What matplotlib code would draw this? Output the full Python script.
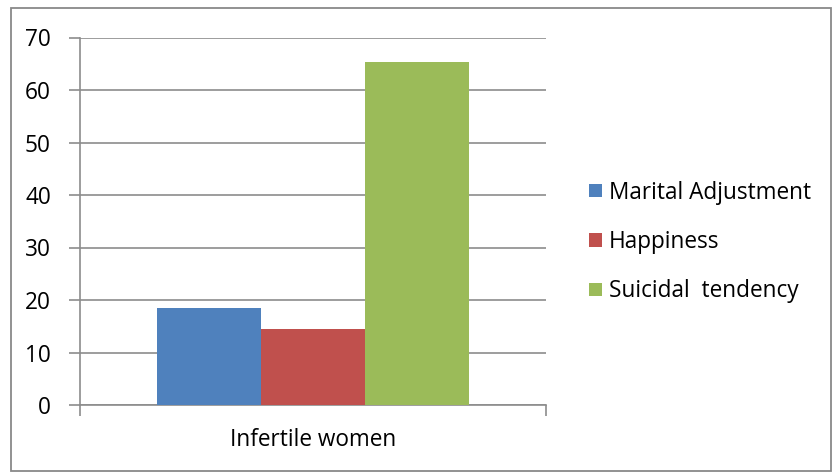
import matplotlib.pyplot as plt
from matplotlib.patches import Rectangle

categories = ["Infertile women"]
series_names = ["Marital Adjustment", "Happiness", "Suicidal  tendency"]
values = [18.5, 14.5, 65.3]
colors = ["#4F81BD", "#C0504D", "#9BBB59"]
yticks = [0, 10, 20, 30, 40, 50, 60, 70]

plt.rcParams['font.family'] = ['Open Sans', 'DejaVu Sans']
FS = 16.3

W, H = 838, 474
fig = plt.figure(figsize=(W/100, H/100), dpi=100)
ax = fig.add_axes([80/W, 1-405/H, (546-80)/W, (405-37.5)/H])

bw = 0.2225
offsets = [-bw, 0, bw]
for name, v, c, off in zip(series_names, values, colors, offsets):
    ax.bar(0 + off, v, width=bw, color=c, label=name, zorder=3)

ax.set_xlim(-0.5, 0.5)
ax.set_ylim(0, 70)
ax.set_yticks(yticks)
ax.set_yticklabels([str(t) for t in yticks], fontsize=FS)
ax.yaxis.grid(True, color="#8c8c8c", linewidth=1.2, zorder=0)
ax.set_xticks([-0.5, 0.5])
ax.set_xticklabels(["", ""])
ax.tick_params(axis='both', color="#8c8c8c", length=8, width=1.2)
ax.tick_params(axis='y', pad=13)
for s in ["top", "right"]:
    ax.spines[s].set_visible(False)
for s in ["left", "bottom"]:
    ax.spines[s].set_color("#8c8c8c")
    ax.spines[s].set_linewidth(1.2)
ax.text(0, -35/367.5, categories[0], transform=ax.get_xaxis_transform(),
        ha="center", va="center", fontsize=FS)

# figure border
fig.patches.append(Rectangle((11/W, 1-471/H), (831-11)/W, (471-7.5)/H,
                             transform=fig.transFigure, fill=False,
                             edgecolor="#898989", linewidth=1.3))

leg = fig.legend(loc="center left", bbox_to_anchor=(569/W, 1-242/H),
                 frameon=False, fontsize=FS, handlelength=0.55, handleheight=0.55,
                 handletextpad=0.3, labelspacing=1.12)

fig.savefig("out.png", dpi=100)
